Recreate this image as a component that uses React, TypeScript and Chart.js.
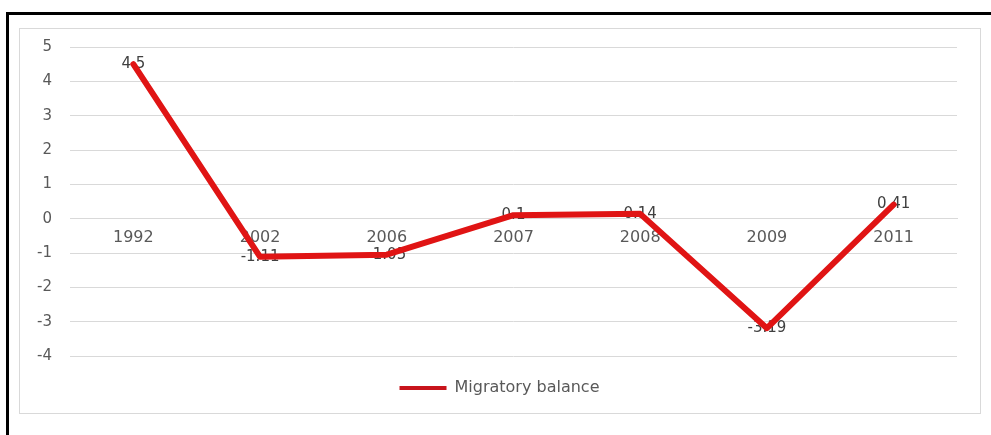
import React, { useEffect, useRef } from "react";
import { Chart, registerables } from "chart.js";

Chart.register(...registerables);

const categories = ["1992", "2002", "2006", "2007", "2008", "2009", "2011"];
const migratoryBalance = [4.5, -1.11, -1.05, 0.1, 0.14, -3.19, 0.41];
const yTicks = [5, 4, 3, 2, 1, 0, -1, -2, -3, -4];
const seriesName = "Migratory balance";

const FONT = "'DejaVu Sans', sans-serif";
const TEXT = "#595959";
const GRID = "#d9d9d9";

const dataLabelPlugin = {
  id: "dataLabels",
  beforeDatasetsDraw(chart: any) {
    const ctx = chart.ctx;
    const meta = chart.getDatasetMeta(0);
    const data = chart.data.datasets[0].data;
    ctx.save();
    ctx.font = `15px ${FONT}`;
    ctx.fillStyle = "#404040";
    ctx.textAlign = "center";
    ctx.textBaseline = "middle";
    meta.data.forEach((pt: any, i: number) => {
      ctx.fillText(String(data[i]), pt.x, pt.y);
    });
    ctx.restore();
  },
};

const legendLayoutPlugin = {
  id: "legendLayout",
  beforeLayout(chart: any) {
    const lg = chart.legend;
    if (lg && !lg.__patched) {
      const orig = lg.fit.bind(lg);
      lg.fit = function () {
        orig();
        this.height = 56;
      };
      lg.__patched = true;
    }
  },
  afterLayout(chart: any) {
    const lg = chart.legend;
    if (lg) {
      lg.left = 0;
      lg.right = chart.width;
      lg.width = chart.width;
    }
  },
};

export default function App() {
  const ref = useRef<HTMLCanvasElement | null>(null);

  useEffect(() => {
    if (!ref.current) return;
    const chart = new Chart(ref.current, {
      type: "line",
      data: {
        labels: categories,
        datasets: [
          {
            label: seriesName,
            data: migratoryBalance,
            borderColor: "#e01414",
            backgroundColor: "#c8141c",
            borderWidth: 6,
            pointRadius: 0,
            tension: 0,
            borderCapStyle: "round",
            borderJoinStyle: "round",
          },
        ],
      },
      options: {
        responsive: false,
        animation: false,
        devicePixelRatio: 1,
        layout: { padding: { left: 0, right: 22, top: 18, bottom: 0 } },
        scales: {
          x: {
            position: { y: 0 } as any,
            offset: true,
            grid: { display: false, drawTicks: false },
            border: { display: true, color: GRID, width: 1 },
            ticks: {
              color: TEXT,
              font: { family: FONT, size: 16 },
              padding: 10,
              maxRotation: 0,
            },
          },
          y: {
            min: -4,
            max: 5,
            afterFit(scale: any) {
              scale.width = 50;
              scale.paddingTop = 0;
              scale.paddingBottom = 0;
            },
            afterBuildTicks(scale: any) {
              scale.ticks = yTicks.map((v) => ({ value: v }));
            },
            grid: { color: GRID, lineWidth: 1, drawTicks: false },
            border: { display: false },
            ticks: {
              color: TEXT,
              font: { family: FONT, size: 15 },
              padding: 18,
            },
          },
        },
        plugins: {
          legend: {
            position: "bottom",
            labels: {
              padding: 24,
              color: TEXT,
              font: { family: FONT, size: 16 },
              boxWidth: 47,
              boxHeight: 4,
              generateLabels: () => [
                {
                  text: seriesName,
                  fillStyle: "#c8141c",
                  strokeStyle: "#c8141c",
                  lineWidth: 0,
                  hidden: false,
                  datasetIndex: 0,
                  fontColor: TEXT,
                } as any,
              ],
            },
          },
          tooltip: { enabled: false },
        },
      },
      plugins: [dataLabelPlugin, legendLayoutPlugin],
    });
    return () => chart.destroy();
  }, []);

  return (
    <div
      style={{
        position: "fixed",
        left: 0,
        top: 0,
        width: 991,
        height: 435,
        background: "#fff",
        overflow: "hidden",
      }}
    >
      <div
        style={{
          position: "absolute",
          left: 6,
          top: 12,
          width: 1100,
          height: 600,
          border: "3px solid #000",
          boxSizing: "border-box",
        }}
      />
      <div
        style={{
          position: "absolute",
          left: 19,
          top: 28,
          width: 962,
          height: 386,
          border: "1px solid #d9d9d9",
          boxSizing: "border-box",
          background: "#fff",
        }}
      />
      <canvas
        ref={ref}
        width={959}
        height={383}
        style={{ position: "absolute", left: 20, top: 29, width: 959, height: 383 }}
      />
    </div>
  );
}
